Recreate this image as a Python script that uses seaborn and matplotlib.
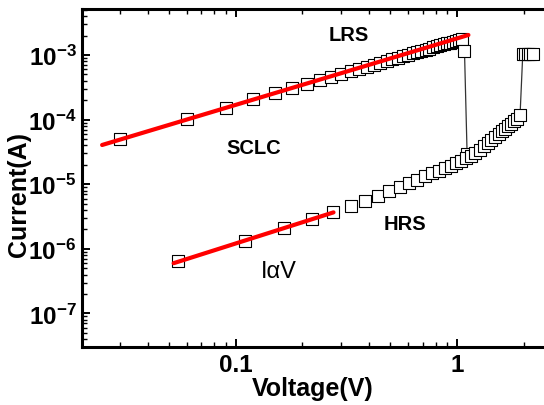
import math
import matplotlib
matplotlib.use("Agg")
import matplotlib.pyplot as plt
import matplotlib.ticker as mticker
import seaborn as sns
import pandas as pd

# ---- data ----
lrs_v = [0.03, 0.06, 0.09, 0.12, 0.15, 0.18, 0.21, 0.24, 0.27, 0.30,
         0.33, 0.36, 0.39, 0.42, 0.45, 0.48, 0.51, 0.54, 0.57, 0.60,
         0.63, 0.66, 0.69, 0.72, 0.75, 0.78, 0.81, 0.84, 0.87, 0.90,
         0.93, 0.96, 0.99, 1.02, 1.05, 1.08, 1.11]
lrs_i = [5.0e-5, 1.02e-4, 1.5e-4, 2.05e-4, 2.55e-4, 3.05e-4, 3.55e-4, 4.1e-4, 4.6e-4, 5.1e-4,
         5.6e-4, 6.1e-4, 6.6e-4, 7.1e-4, 7.6e-4, 8.1e-4, 8.6e-4, 9.1e-4, 9.6e-4, 1.01e-3,
         1.06e-3, 1.11e-3, 1.16e-3, 1.21e-3, 1.26e-3, 1.31e-3, 1.36e-3, 1.41e-3, 1.46e-3, 1.51e-3,
         1.56e-3, 1.61e-3, 1.66e-3, 1.71e-3, 1.77e-3, 1.17e-3, 2.9e-5]

hrs_v = [0.055, 0.11, 0.165, 0.22, 0.275, 0.33, 0.385, 0.44, 0.495, 0.55,
         0.605, 0.66, 0.715, 0.77, 0.825, 0.88, 0.935, 0.99, 1.045, 1.1,
         1.155, 1.21, 1.265, 1.32, 1.375, 1.43, 1.485, 1.54, 1.595, 1.65,
         1.705, 1.76, 1.815, 1.87, 1.925]
hrs_i = [6.5e-7, 1.33e-6, 2.07e-6, 2.89e-6, 3.75e-6, 4.64e-6, 5.55e-6, 6.6e-6, 7.9e-6, 9.1e-6,
         1.04e-5, 1.17e-5, 1.32e-5, 1.47e-5, 1.62e-5, 1.76e-5, 1.93e-5, 2.13e-5, 2.31e-5, 2.55e-5,
         2.74e-5, 3.04e-5, 3.44e-5, 3.9e-5, 4.34e-5, 4.83e-5, 5.38e-5, 5.98e-5, 6.66e-5, 7.28e-5,
         7.96e-5, 8.7e-5, 9.51e-5, 1.04e-4, 1.16e-4]

comp_v = [1.98, 2.035, 2.09, 2.145, 2.2]
comp_i = [1.02e-3, 1.02e-3, 1.02e-3, 1.02e-3, 1.02e-3]

reset_v = [1.08, 1.11]
reset_i = [1.17e-3, 2.9e-5]
set_v = [1.925, 1.98]
set_i = [1.16e-4, 1.02e-3]

fit_lrs_v = [0.0249, 1.125]
fit_lrs_i = [4.05e-5, 2.04e-3]
fit_hrs_v = [0.0524, 0.2765]
fit_hrs_i = [6.0e-7, 3.67e-6]

x_ticks = [0.1, 1]
x_tick_labels = ["0.1", "1"]

# ---- style ----
sns.set_theme(style="ticks")
plt.rcParams['font.family'] = ['Liberation Sans', 'DejaVu Sans']
plt.rcParams['mathtext.fontset'] = 'custom'
plt.rcParams['mathtext.rm'] = 'Liberation Sans'
plt.rcParams['mathtext.bf'] = 'Liberation Sans:bold'
for key in ['text.color', 'axes.labelcolor', 'xtick.color', 'ytick.color',
            'xtick.labelcolor', 'ytick.labelcolor', 'axes.edgecolor']:
    plt.rcParams[key] = 'black'

fig = plt.figure(figsize=(5.44, 4.06), dpi=100)
ax = fig.add_axes([82/544, 58/406, 462/544, 338/406])
ax.set_xscale('log')
ax.set_yscale('log')

# transition segments
for vv, ii in [(reset_v, reset_i), (set_v, set_i)]:
    sns.lineplot(x=vv, y=ii, ax=ax, color='#333333', linewidth=0.9,
                 sort=False, estimator=None, zorder=1)

pts = pd.DataFrame({
    'V': lrs_v + hrs_v + comp_v,
    'I': lrs_i + hrs_i + comp_i,
})
sns.scatterplot(data=pts, x='V', y='I', ax=ax, marker='s', s=68,
                facecolor='white', edgecolor='black', linewidth=0.8, zorder=2)

for vv, ii in [(fit_lrs_v, fit_lrs_i), (fit_hrs_v, fit_hrs_i)]:
    sns.lineplot(x=vv, y=ii, ax=ax, color='#ff0000', linewidth=3,
                 sort=False, estimator=None, zorder=3)

ax.set_xlim(0.0202, 2.47)
ax.set_ylim(3.03e-8, 5.15e-3)

ax.xaxis.set_major_locator(mticker.FixedLocator(x_ticks))
ax.xaxis.set_major_formatter(mticker.FixedFormatter(x_tick_labels))
ax.xaxis.set_minor_locator(mticker.LogLocator(base=10, subs=range(2, 10), numticks=20))
ax.xaxis.set_minor_formatter(mticker.NullFormatter())
ax.yaxis.set_major_locator(mticker.LogLocator(base=10, numticks=20))
ax.yaxis.set_major_formatter(mticker.FuncFormatter(
    lambda v, p: r'$\mathbf{10^{%d}}$' % round(math.log10(v))))
ax.yaxis.set_minor_locator(mticker.LogLocator(base=10, subs=range(2, 10), numticks=40))
ax.yaxis.set_minor_formatter(mticker.NullFormatter())

ax.tick_params(which='both', direction='in', top=True, right=False,
               color='black', labelcolor='black')
ax.tick_params(which='major', length=6, width=1.4, labelsize=17.5, pad=4)
ax.tick_params(which='minor', length=3.5, width=1.0)
for lab in ax.get_xticklabels():
    lab.set_fontweight('bold')

for side in ['left', 'bottom', 'top']:
    ax.spines[side].set_linewidth(2.2)
    ax.spines[side].set_color('black')
ax.spines['right'].set_visible(False)

ax.set_xlabel('Voltage(V)', fontsize=18, fontweight='bold', labelpad=0, color='black')
ax.set_ylabel('Current(A)', fontsize=18, fontweight='bold', color='black')
ax.yaxis.set_label_coords(-0.110, 0.453)

ax.text(0.578, 0.925, 'LRS', transform=ax.transAxes, fontsize=14.5, fontweight='bold',
        ha='center', va='center', color='black')
ax.text(0.372, 0.589, 'SCLC', transform=ax.transAxes, fontsize=14.5, fontweight='bold',
        ha='center', va='center', color='black')
ax.text(0.699, 0.364, 'HRS', transform=ax.transAxes, fontsize=14.5, fontweight='bold',
        ha='center', va='center', color='black')
ax.text(0.426, 0.225, 'I\u03b1V', transform=ax.transAxes, fontsize=17,
        ha='center', va='center', color='black')

fig.savefig('out.png', dpi=100)
